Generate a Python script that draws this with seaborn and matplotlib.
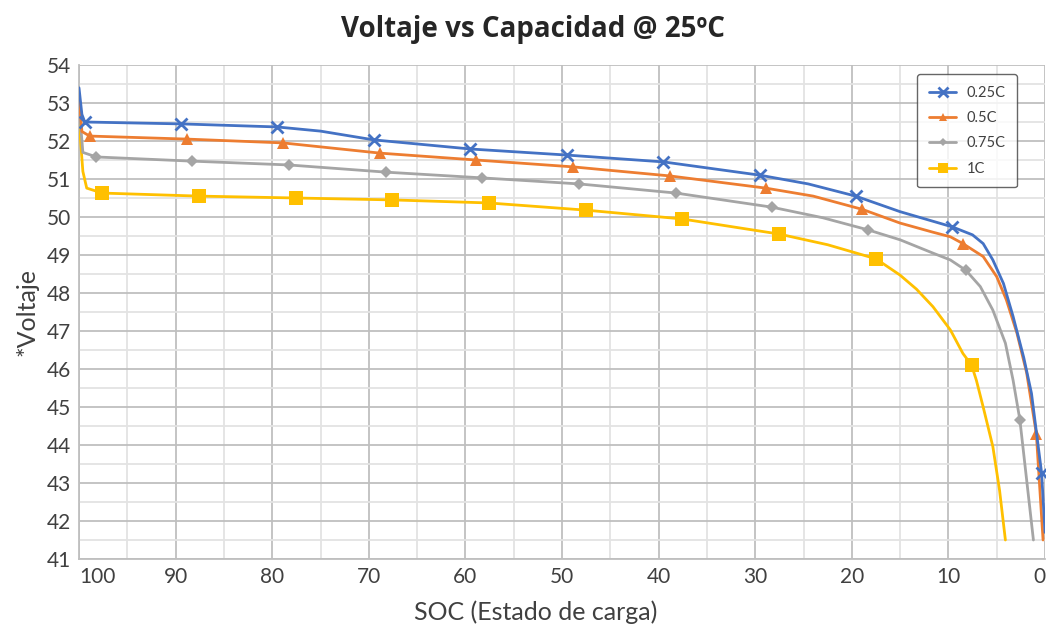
import matplotlib
matplotlib.use("Agg")
import matplotlib.pyplot as plt
import seaborn as sns
import pandas as pd
import numpy as np

# ---- data ----
series_names = ["0.25C", "0.5C", "0.75C", "1C"]

soc_025 = [100, 99.7, 99.4, 89.4, 79.5, 75.0, 69.5, 59.5, 49.5, 39.5, 29.5, 24.5, 19.6, 15.0, 9.6, 7.5, 6.4, 5.4, 4.3, 3.3, 2.2, 1.4, 0.35, 0.0]
v_025   = [53.4, 52.7, 52.5, 52.45, 52.37, 52.26, 52.03, 51.79, 51.63, 51.45, 51.1, 50.87, 50.55, 50.14, 49.74, 49.53, 49.3, 48.87, 48.25, 47.38, 46.3, 45.36, 43.26, 41.7]
mk_025  = [2, 3, 4, 6, 7, 8, 9, 10, 12, 14, 22]

soc_05 = [100, 99.7, 98.9, 88.8, 78.9, 68.8, 58.9, 48.9, 38.8, 28.9, 24.0, 18.9, 15.0, 11.6, 9.8, 8.5, 6.4, 5.0, 4.0, 2.9, 1.9, 0.9, 0.2]
v_05   = [53.2, 52.25, 52.13, 52.05, 51.95, 51.68, 51.5, 51.32, 51.08, 50.76, 50.55, 50.2, 49.84, 49.6, 49.48, 49.3, 48.96, 48.43, 47.82, 46.94, 45.9, 44.3, 41.5]
mk_05  = [2, 3, 4, 5, 6, 7, 8, 9, 11, 15, 21]

soc_075 = [100, 99.6, 98.2, 88.3, 78.3, 68.2, 58.3, 48.2, 38.2, 28.3, 23.0, 18.3, 15.0, 11.6, 9.8, 8.2, 6.7, 5.4, 4.1, 3.3, 2.6, 1.9, 1.2]
v_075   = [52.95, 51.7, 51.58, 51.47, 51.37, 51.18, 51.03, 50.87, 50.63, 50.26, 49.98, 49.66, 49.4, 49.05, 48.87, 48.6, 48.17, 47.55, 46.68, 45.7, 44.66, 43.08, 41.5]
mk_075  = [2, 3, 4, 5, 6, 7, 8, 9, 11, 15, 20]

soc_1 = [100, 99.6, 99.2, 97.6, 87.6, 77.5, 67.6, 57.6, 47.5, 37.6, 27.5, 22.5, 17.5, 15.0, 13.3, 11.6, 9.8, 8.5, 7.6, 7.1, 6.4, 5.4, 4.7, 4.1]
v_1   = [52.55, 51.2, 50.76, 50.63, 50.55, 50.5, 50.45, 50.37, 50.18, 49.95, 49.55, 49.27, 48.9, 48.47, 48.1, 47.64, 47.03, 46.41, 46.1, 45.7, 45.0, 43.96, 42.8, 41.5]
mk_1  = [3, 4, 5, 6, 7, 8, 9, 10, 12, 18]

x_ticks = [100, 90, 80, 70, 60, 50, 40, 30, 20, 10, 0]
y_ticks = [41, 42, 43, 44, 45, 46, 47, 48, 49, 50, 51, 52, 53, 54]

colors = ["#4472C4", "#ED7D31", "#A5A5A5", "#FFC000"]
markers = ["x", "^", "D", "s"]
msizes = [9, 8, 6, 10]

sns.set_style("white")
plt.rcParams["font.family"] = ["Lato", "DejaVu Sans"]

fig = plt.figure(figsize=(10.46, 6.29), dpi=100)
ax = fig.add_axes([79/1046, 1 - 559/629, (1045 - 79)/1046, (559 - 65)/629])

data = [(soc_025, v_025, mk_025), (soc_05, v_05, mk_05), (soc_075, v_075, mk_075), (soc_1, v_1, mk_1)]
for i, (xs, ys, mk) in enumerate(data):
    df = pd.DataFrame({"SOC": xs, "V": ys})
    sns.lineplot(data=df, x="SOC", y="V", ax=ax, sort=False, estimator=None,
                 color=colors[i], linewidth=2.0, marker=markers[i], markevery=mk,
                 markersize=msizes[i], markeredgewidth=2 if markers[i] == "x" else 0,
                 markeredgecolor=colors[i], label=series_names[i], zorder=3 + (3 - i),
                 solid_joinstyle="round")

ax.set_xlim(100, 0)
ax.set_ylim(41, 54)
ax.set_xticks(x_ticks)
ax.set_yticks(y_ticks)
ax.set_xticks(np.arange(95, 0, -10), minor=True)
ax.set_yticks(np.arange(41.5, 54, 1.0), minor=True)
ax.grid(True, which="major", color="#BFBFBF", linewidth=1.3)
ax.grid(True, which="minor", color="#E3E3E3", linewidth=1.3)
ax.set_axisbelow(True)
for s in ["top", "right"]:
    ax.spines[s].set_visible(False)
for s in ["left", "bottom"]:
    ax.spines[s].set_color("#BFBFBF")
    ax.spines[s].set_linewidth(1.3)

ax.tick_params(axis="both", which="both", length=0, labelsize=15, labelcolor="#404040", pad=6)
xl = ax.get_xticklabels()
xl[0].set_horizontalalignment("left")
xl[-1].set_horizontalalignment("right")

ax.set_xlabel("SOC (Estado de carga)", fontsize=18, color="#404040")
ax.xaxis.set_label_coords((536 - 79)/966, -(612 - 559)/494)
ax.xaxis.label.set_va("center")
ax.set_ylabel("*Voltaje", fontsize=18, color="#404040", labelpad=6)

fig.text(533/1046, 1 - 30/629, "Voltaje vs Capacidad @ 25ºC", ha="center", va="center",
         fontsize=20, fontweight="bold", color="#262626", family=["Open Sans", "DejaVu Sans"])

leg = ax.legend(loc="upper right", bbox_to_anchor=((1017 - 79)/966, (559 - 74)/494),
                fontsize=10.5, frameon=True, handlelength=1.85, handletextpad=0.7,
                labelspacing=0.78, borderpad=0.8, borderaxespad=0, markerscale=0.75,
                fancybox=True)
leg.get_frame().set_edgecolor("#404040")
leg.get_frame().set_linewidth(1.0)
for t in leg.get_texts():
    t.set_color("#404040")

fig.savefig("out.png", dpi=100)
